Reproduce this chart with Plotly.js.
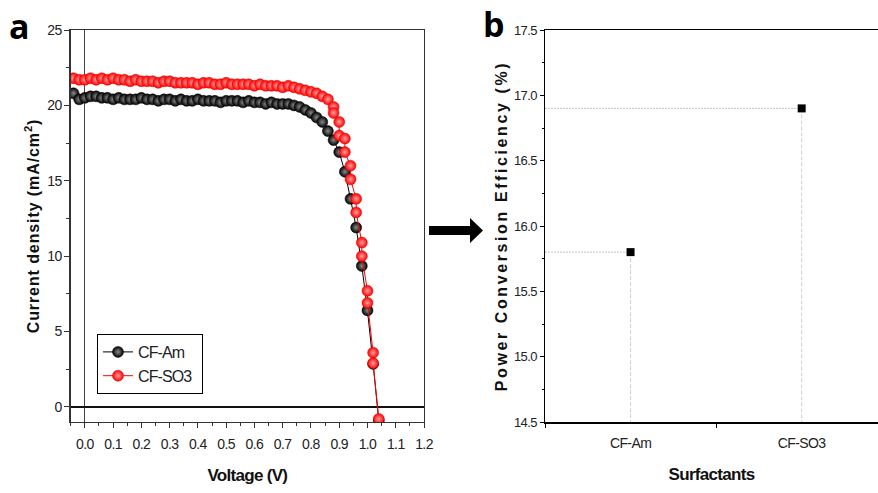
<!DOCTYPE html>
<html>
<head>
<meta charset="utf-8">
<script src="https://cdn.plot.ly/plotly-3.0.1.min.js"></script>
<style>
html,body{margin:0;padding:0;background:#fff;}
#chart{width:878px;height:493px;}
#chart .xtick text, #chart .ytick text, #chart .x2tick text, #chart .y2tick text { letter-spacing: -0.6px; }
#chart .legendtext { letter-spacing: -0.9px; }
#chart .g-xtitle text, #chart .g-x2title text { letter-spacing: -0.7px; }
#chart .g-ytitle text { letter-spacing: 0.9px; }
#chart .g-y2title text { letter-spacing: 2.6px; }
</style>
</head>
<body>
<div id="chart"></div>
<script>
// ---- Panel a: J-V curves ----
const voltageAm = [-0.04,-0.02,0.00,0.02,0.04,0.06,0.08,0.10,0.12,0.14,0.16,0.18,0.20,0.22,0.24,0.26,0.28,0.30,0.32,0.34,0.36,0.38,0.40,0.42,0.44,0.46,0.48,0.50,0.52,0.54,0.56,0.58,0.60,0.62,0.64,0.66,0.68,0.70,0.72,0.74,0.76,0.78,0.80,0.82,0.84,0.86,0.88,0.90,0.92,0.94,0.96,0.98,1.00,1.02,1.04];
const currentAm = [20.8,20.4,20.5,20.6,20.6,20.5,20.5,20.4,20.5,20.4,20.4,20.4,20.5,20.4,20.4,20.3,20.4,20.4,20.3,20.4,20.3,20.3,20.4,20.3,20.3,20.3,20.2,20.3,20.3,20.3,20.2,20.3,20.2,20.2,20.1,20.2,20.1,20.1,20.1,20.0,19.9,19.7,19.5,19.2,18.9,18.3,17.7,16.9,15.6,13.8,11.9,9.35,6.4,2.85,-0.9];
const voltageSO3 = [-0.04,-0.02,0.00,0.02,0.04,0.06,0.08,0.10,0.12,0.14,0.16,0.18,0.20,0.22,0.24,0.26,0.28,0.30,0.32,0.34,0.36,0.38,0.40,0.42,0.44,0.46,0.48,0.50,0.52,0.54,0.56,0.58,0.60,0.62,0.64,0.66,0.68,0.70,0.72,0.74,0.76,0.78,0.80,0.82,0.84,0.86,0.88,0.88,0.90,0.90,0.92,0.92,0.94,0.94,0.96,0.96,0.98,0.98,1.00,1.00,1.02,1.02,1.04];
const currentSO3 = [21.8,21.7,21.7,21.8,21.7,21.8,21.7,21.8,21.7,21.7,21.6,21.7,21.6,21.6,21.6,21.5,21.6,21.6,21.5,21.5,21.5,21.5,21.4,21.5,21.5,21.4,21.4,21.5,21.4,21.4,21.4,21.4,21.3,21.4,21.3,21.3,21.3,21.2,21.3,21.2,21.1,21.0,20.9,20.8,20.6,20.4,19.9,19.5,18.9,18.0,17.8,16.9,16.0,15.1,13.8,12.9,10.9,10.0,7.7,6.9,3.6,2.9,-0.8];
const seriesNames = ["CF-Am", "CF-SO3"];

// ---- Panel b: PCE ----
const surfactants = ["CF-Am", "CF-SO3"];
const pce = [15.8, 16.9];

const sans = "Liberation Sans, Arial, sans-serif";

const W = 878, H = 493;
const px = v => v / W, py = v => 1 - v / H;

const traces = [];
traces.push({
  x: voltageAm, y: currentAm, name: seriesNames[0], type: "scatter", mode: "lines+markers",
  xaxis: "x", yaxis: "y",
  line: {color: "#000", width: 1},
  marker: {symbol: "circle", size: 11, color: "#000", line: {color: "#000", width: 0.5},
           gradient: {type: "radial", color: "#8a8a8a"}}
});
traces.push({
  x: voltageSO3, y: currentSO3, name: seriesNames[1], type: "scatter", mode: "lines+markers",
  xaxis: "x", yaxis: "y",
  line: {color: "#ff0000", width: 1},
  marker: {symbol: "circle", size: 11, color: "#ff0000", line: {color: "#e00000", width: 0.5},
           gradient: {type: "radial", color: "#ffa0a0"}}
});

// panel b drop lines built from the data
const catPos = surfactants.map((_, i) => i);
const yMinB = 14.5, xMinB = -0.5;
catPos.forEach((c, i) => {
  traces.push({
    x: [xMinB, c], y: [pce[i], pce[i]], type: "scatter", mode: "lines", xaxis: "x2", yaxis: "y2",
    showlegend: false, hoverinfo: "skip", line: {color: "#c4c4c4", width: 1, dash: "2px,1px"}
  });
  traces.push({
    x: [c, c], y: [pce[i], yMinB], type: "scatter", mode: "lines", xaxis: "x2", yaxis: "y2",
    showlegend: false, hoverinfo: "skip", line: {color: "#cfcfcf", width: 1, dash: "4px,2px"}
  });
});
traces.push({
  x: catPos, y: pce, type: "scatter", mode: "markers", xaxis: "x2", yaxis: "y2",
  showlegend: false, marker: {symbol: "square", size: 8, color: "#000"}
});

const tickFont = {family: sans, size: 14, color: "#222"};
const layout = {
  width: W, height: H,
  margin: {l: 0, r: 0, t: 0, b: 0},
  paper_bgcolor: "#fff", plot_bgcolor: "#fff",
  showlegend: true,
  legend: {x: px(97), y: py(334), xanchor: "left", yanchor: "top",
           bordercolor: "#000", borderwidth: 1, bgcolor: "#fff", itemwidth: 30,
           font: {family: sans, size: 16, color: "#222"}, tracegroupgap: 0},
  xaxis: {
    domain: [px(70.7), px(424)], range: [-0.05, 1.2], anchor: "y",
    tickmode: "linear", tick0: 0, dtick: 0.1, tickformat: ".1f",
    ticks: "outside", ticklen: 5, tickwidth: 1, tickcolor: "#333",
    minor: {dtick: 0.05, tick0: 0, ticks: "outside", ticklen: 3, tickcolor: "#333"},
    showline: true, linecolor: "#333", linewidth: 1.3, mirror: true,
    showgrid: false, zeroline: true, zerolinecolor: "#444", zerolinewidth: 1,
    tickfont: tickFont, ticklabelstandoff: 4,
    title: {text: "Voltage (V)", font: {family: sans, size: 17, color: "#111", weight: "bold"}, standoff: 18}
  },
  yaxis: {
    domain: [py(422), py(30)], range: [-1, 25], anchor: "x",
    tickmode: "linear", tick0: 0, dtick: 5,
    ticks: "outside", ticklen: 5, tickwidth: 1, tickcolor: "#333",
    minor: {dtick: 2.5, tick0: 0, ticks: "outside", ticklen: 3, tickcolor: "#333"},
    showline: true, linecolor: "#333", linewidth: 1.3, mirror: true,
    showgrid: false, zeroline: true, zerolinecolor: "#111", zerolinewidth: 1.2,
    tickfont: tickFont,
    title: {text: "Current density (mA/cm<sup>2</sup>)", font: {family: sans, size: 16, color: "#111", weight: "bold"}, standoff: 2}
  },
  xaxis2: {
    domain: [px(545), 1], range: [-0.5, 1.446], anchor: "y2",
    tickmode: "array", tickvals: catPos, ticktext: surfactants, ticks: "", ticklen: 0,
    minor: {tickmode: "array", tickvals: [-0.5, 0.5, 1.5], ticks: "outside", ticklen: 4, tickcolor: "#000"},
    showline: true, linecolor: "#000", linewidth: 1.5, mirror: true,
    showgrid: false, zeroline: false,
    tickfont: {family: sans, size: 14, color: "#222"}, ticklabelstandoff: 8,
    title: {text: "Surfactants", font: {family: sans, size: 17, color: "#111", weight: "bold"}, standoff: 18}
  },
  yaxis2: {
    domain: [py(422), py(30)], range: [14.5, 17.5], anchor: "x2",
    tickmode: "linear", tick0: 14.5, dtick: 0.5, tickformat: ".1f",
    ticks: "outside", ticklen: 4, tickcolor: "#000",
    minor: {dtick: 0.25, tick0: 14.5, ticks: "outside", ticklen: 2, tickcolor: "#000"},
    showline: true, linecolor: "#000", linewidth: 1.5, mirror: false,
    showgrid: false, zeroline: false,
    tickfont: {family: sans, size: 13, color: "#222"},
    title: {text: "Power Conversion Efficiency (%)", font: {family: sans, size: 16, color: "#111", weight: "bold"}, standoff: 0}
  },
  annotations: [
    {text: "a", xref: "paper", yref: "paper", x: px(19), y: py(26), xanchor: "center", yanchor: "middle",
     showarrow: false, font: {family: "Open Sans, sans-serif", size: 34, color: "#000", weight: "bold"}},
    {text: "b", xref: "paper", yref: "paper", x: px(494), y: py(24), xanchor: "center", yanchor: "middle",
     showarrow: false, font: {family: "Open Sans, sans-serif", size: 34, color: "#000", weight: "bold"}}
  ],
  shapes: [
    {type: "path", xref: "paper", yref: "paper", fillcolor: "#000", line: {width: 0},
     path: `M ${px(429)} ${py(226)} L ${px(470)} ${py(226)} L ${px(470)} ${py(218)} L ${px(483)} ${py(230.5)} L ${px(470)} ${py(243)} L ${px(470)} ${py(235)} L ${px(429)} ${py(235)} Z`}
  ]
};

Plotly.newPlot("chart", traces, layout, {displayModeBar: false, staticPlot: true});
</script>
</body>
</html>
